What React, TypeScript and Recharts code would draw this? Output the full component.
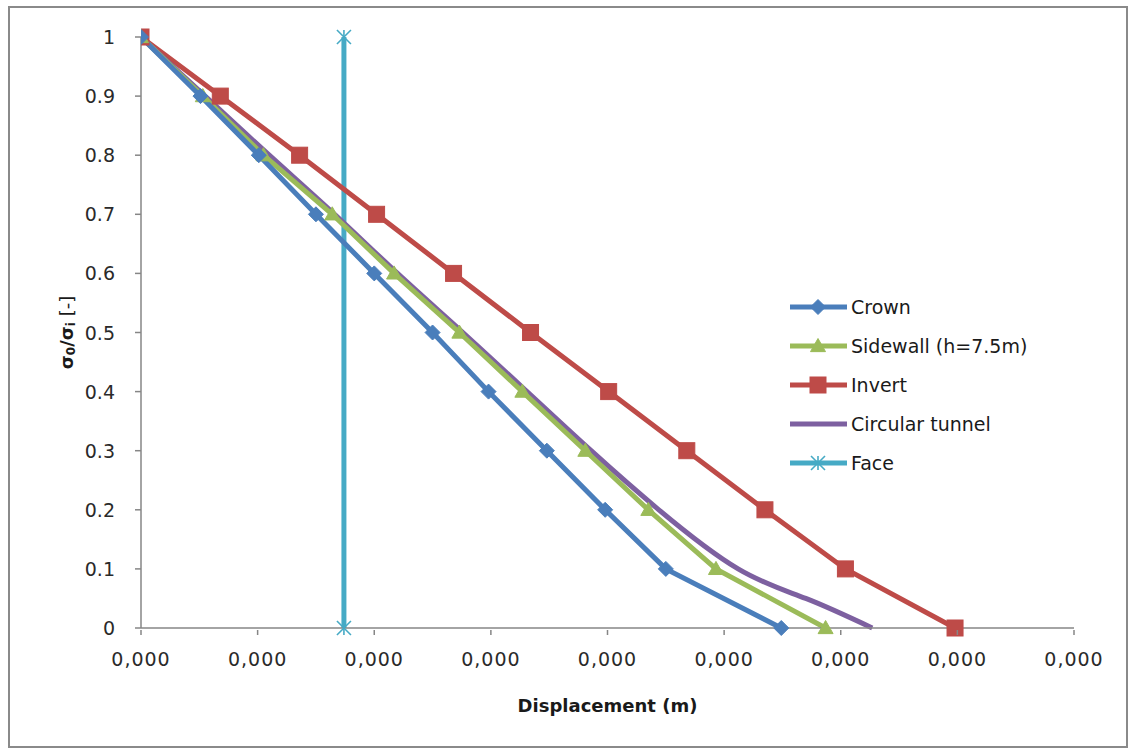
import React from "react";
import { LineChart, Line, XAxis, YAxis, Legend } from "recharts";

// Displacement values are stored in units of 0.01 mm (1e-5 m)
const xTicks = [0, 1, 2, 3, 4, 5, 6, 7, 8];
const yTicks = [0, 0.1, 0.2, 0.3, 0.4, 0.5, 0.6, 0.7, 0.8, 0.9, 1];

const stressRatio = [1, 0.9, 0.8, 0.7, 0.6, 0.5, 0.4, 0.3, 0.2, 0.1, 0];
const crownDisp = [0, 0.51, 1.01, 1.5, 2.0, 2.5, 2.98, 3.48, 3.98, 4.5, 5.49];
const sidewallDisp = [0, 0.53, 1.05, 1.64, 2.17, 2.73, 3.27, 3.81, 4.35, 4.93, 5.87];
const invertDisp = [0, 0.68, 1.36, 2.02, 2.68, 3.34, 4.01, 4.68, 5.35, 6.04, 6.98];

const circularRatio = [1, 0.9, 0.8, 0.7, 0.6, 0.5, 0.4, 0.3, 0.2, 0.1, 0.05, 0];
const circularDisp = [0, 0.55, 1.1, 1.66, 2.2, 2.76, 3.31, 3.86, 4.44, 5.12, 5.7, 6.27];

const faceRatio = [0, 1];
const faceDisp = [1.74, 1.74];

const toPoints = (xs: number[], ys: number[]) => xs.map((x, i) => ({ x, y: ys[i] }));

const crownData = toPoints(crownDisp, stressRatio);
const sidewallData = toPoints(sidewallDisp, stressRatio);
const invertData = toPoints(invertDisp, stressRatio);
const circularData = toPoints(circularDisp, circularRatio);
const faceData = toPoints(faceDisp, faceRatio);

const COLORS = {
  crown: "#4a7ebb",
  sidewall: "#9bbb59",
  invert: "#be4b48",
  circular: "#7d60a0",
  face: "#46aac5",
};

const AXIS_COLOR = "#868686";
const TICK_FONT = "'DejaVu Sans', Verdana, sans-serif";
const LINE_W = 5;

type MarkerKind = "diamond" | "triangle" | "square" | "star" | "none";

function Marker({ kind, cx, cy, color }: { kind: MarkerKind; cx: number; cy: number; color: string }) {
  if (kind === "diamond") {
    const r = 7.5;
    return <path d={`M${cx},${cy - r}L${cx + r},${cy}L${cx},${cy + r}L${cx - r},${cy}Z`} fill={color} stroke={color} />;
  }
  if (kind === "triangle") {
    const r = 7.5;
    return (
      <path
        d={`M${cx},${cy - r}L${cx + r},${cy + r * 0.75}L${cx - r},${cy + r * 0.75}Z`}
        fill={color}
        stroke={color}
      />
    );
  }
  if (kind === "square") {
    const r = 8;
    return <rect x={cx - r} y={cy - r} width={2 * r} height={2 * r} fill={color} stroke={color} />;
  }
  if (kind === "star") {
    const r = 7;
    return (
      <g stroke={color} strokeWidth={1.6}>
        <line x1={cx - r} y1={cy - r} x2={cx + r} y2={cy + r} />
        <line x1={cx - r} y1={cy + r} x2={cx + r} y2={cy - r} />
        <line x1={cx} y1={cy - r} x2={cx} y2={cy + r} />
      </g>
    );
  }
  return null;
}

const makeDot = (kind: MarkerKind, color: string) => (props: any) => {
  const { cx, cy, index } = props;
  if (cx == null || cy == null) return <g key={`d-${kind}-${index}`} />;
  return (
    <g key={`d-${kind}-${index}`}>
      <Marker kind={kind} cx={cx} cy={cy} color={color} />
    </g>
  );
};

const formatDisp = (v: number) => (v * 1e-5).toFixed(3).replace(".", ",");

const XTick = (props: any) => {
  const { x, y, payload } = props;
  return (
    <g>
      <line x1={x} y1={y - 6} x2={x} y2={y - 1} stroke={AXIS_COLOR} strokeWidth={1.5} />
      <text
        x={x}
        y={y + 30}
        textAnchor="middle"
        fontFamily={TICK_FONT}
        fontSize={19}
        letterSpacing={1}
        fill="#2a2a2a"
      >
        {formatDisp(payload.value)}
      </text>
    </g>
  );
};

const YTick = (props: any) => {
  const { x, y, payload } = props;
  const v = Math.round(payload.value * 10) / 10;
  return (
    <g>
      <text
        x={x - 18}
        y={y + 7}
        textAnchor="end"
        fontFamily={TICK_FONT}
        fontSize={19}
        fill="#2a2a2a"
      >
        {String(v)}
      </text>
    </g>
  );
};

const YTitle = (props: any) => {
  const vb = props.viewBox || {};
  const cy = (vb.y ?? 37) + (vb.height ?? 591) / 2;
  const cx = 66;
  return (
    <text
      x={cx}
      y={cy}
      transform={`rotate(-90, ${cx}, ${cy})`}
      textAnchor="middle"
      dominantBaseline="central"
      fontFamily={TICK_FONT}
      fontWeight="bold"
      fontSize={18}
      fill="#1a1a1a"
    >
      <tspan>σ</tspan>
      <tspan fontSize={12} dy={5}>0</tspan>
      <tspan dy={-5}>/σ</tspan>
      <tspan fontSize={12} dy={5}>i</tspan>
      <tspan dy={-5} fontWeight="normal"> [-]</tspan>
    </text>
  );
};

const XTitle = (props: any) => {
  const vb = props.viewBox || {};
  const cx = (vb.x ?? 141) + (vb.width ?? 933) / 2;
  return (
    <text
      x={cx}
      y={712}
      textAnchor="middle"
      fontFamily={TICK_FONT}
      fontWeight="bold"
      fontSize={18}
      fill="#1a1a1a"
    >
      Displacement (m)
    </text>
  );
};

const legendItems: { name: string; color: string; kind: MarkerKind }[] = [
  { name: "Crown", color: COLORS.crown, kind: "diamond" },
  { name: "Sidewall (h=7.5m)", color: COLORS.sidewall, kind: "triangle" },
  { name: "Invert", color: COLORS.invert, kind: "square" },
  { name: "Circular tunnel", color: COLORS.circular, kind: "none" },
  { name: "Face", color: COLORS.face, kind: "star" },
];

const LegendContent = () => (
  <svg width={260} height={200}>
    {legendItems.map((it, i) => {
      const cy = 17 + i * 39;
      return (
        <g key={it.name}>
          <line x1={5} y1={cy} x2={62} y2={cy} stroke={it.color} strokeWidth={LINE_W} />
          <Marker kind={it.kind} cx={33} cy={cy} color={it.color} />
          <text
            x={66}
            y={cy + 7}
            fontFamily={TICK_FONT}
            fontSize={19}
            fill="#1a1a1a"
          >
            {it.name}
          </text>
        </g>
      );
    })}
  </svg>
);

export default function App() {
  return (
    <div
      style={{
        position: "absolute",
        left: 0,
        top: 0,
        width: 1130,
        height: 751,
        background: "#ffffff",
        overflow: "hidden",
      }}
    >
      <div
        style={{
          position: "absolute",
          left: 8,
          top: 6,
          width: 1120,
          height: 742,
          border: "2px solid #8a8a8a",
          boxSizing: "border-box",
        }}
      />
      <div style={{ position: "absolute", left: 0, top: 0 }}>
        <LineChart
          width={1130}
          height={751}
          margin={{ top: 37, right: 56, left: 61, bottom: 63 }}
        >
          <XAxis
            type="number"
            dataKey="x"
            domain={[0, 8]}
            ticks={xTicks}
            interval={0}
            height={60}
            axisLine={{ stroke: AXIS_COLOR, strokeWidth: 1.5 }}
            tickLine={false}
            tick={<XTick />}
            allowDataOverflow
            label={<XTitle />}
          />
          <YAxis
            type="number"
            dataKey="y"
            domain={[0, 1]}
            ticks={yTicks}
            interval={0}
            width={80}
            axisLine={{ stroke: AXIS_COLOR, strokeWidth: 1.5 }}
            tickLine={{ stroke: AXIS_COLOR, strokeWidth: 1.5 }}
            tickSize={6}
            tick={<YTick />}
            label={<YTitle />}
          />
          <Legend
            layout="vertical"
            align="center"
            verticalAlign="middle"
            content={<LegendContent />}
            wrapperStyle={{ position: "absolute", left: 785, top: 290, width: 260, height: 200 }}
          />
          <Line
            name="Face"
            data={faceData}
            dataKey="y"
            type="linear"
            stroke={COLORS.face}
            strokeWidth={LINE_W}
            dot={makeDot("star", COLORS.face)}
            activeDot={false}
            isAnimationActive={false}
          />
          <Line
            name="Invert"
            data={invertData}
            dataKey="y"
            type="linear"
            stroke={COLORS.invert}
            strokeWidth={LINE_W}
            dot={makeDot("square", COLORS.invert)}
            activeDot={false}
            isAnimationActive={false}
          />
          <Line
            name="Circular tunnel"
            data={circularData}
            dataKey="y"
            type="natural"
            stroke={COLORS.circular}
            strokeWidth={LINE_W}
            dot={false}
            activeDot={false}
            isAnimationActive={false}
          />
          <Line
            name="Sidewall (h=7.5m)"
            data={sidewallData}
            dataKey="y"
            type="linear"
            stroke={COLORS.sidewall}
            strokeWidth={LINE_W}
            dot={makeDot("triangle", COLORS.sidewall)}
            activeDot={false}
            isAnimationActive={false}
          />
          <Line
            name="Crown"
            data={crownData}
            dataKey="y"
            type="linear"
            stroke={COLORS.crown}
            strokeWidth={LINE_W}
            dot={makeDot("diamond", COLORS.crown)}
            activeDot={false}
            isAnimationActive={false}
          />
        </LineChart>
      </div>
    </div>
  );
}
